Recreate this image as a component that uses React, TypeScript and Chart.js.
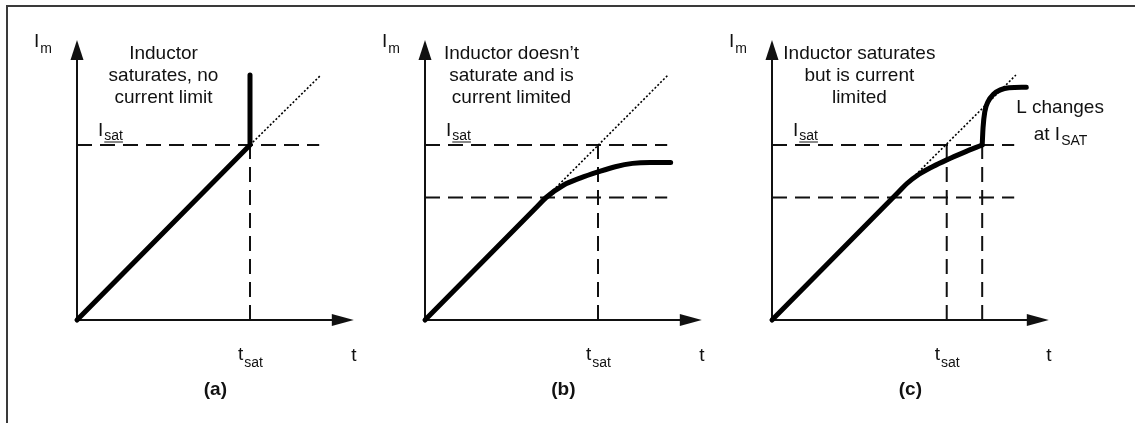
import React, { useEffect, useRef } from "react";
import { Chart, registerables } from "chart.js";

Chart.register(...registerables);

const W = 1135;
const H = 423;

// ---- data (t in units where t_sat = 10, I in units where I_sat = 10) ----
const T_MAX = 16;
const I_MAX = 16;
const I_SAT = 10;
const I_LIMIT = 7;
const REF_END_T = 14;

// Panel (a)
const aCurveT = [0, 10, 10];
const aCurveI = [0, 10, 14];
const aTangentT = [10, 14.1];
const aTangentI = [10, 14];
const aTSat = 10;

// Panel (b)
const bCurveT = [0, 6.5, 7, 8, 9, 10, 11, 12, 13, 14.2];
const bCurveI = [0, 6.5, 7, 7.7, 8.12, 8.46, 8.76, 8.95, 9.0, 9.0];
const bTangentT = [7.4, 14.05];
const bTangentI = [7.4, 14];
const bTSat = 10;

// Panel (c): current-limited bend, then the rise after L changes
const cCurveT = [0, 7.3, 7.8, 8.5, 9.3, 10.1, 11.1, 12.15];
const cCurveI = [0, 7.3, 7.8, 8.33, 8.77, 9.15, 9.58, 10.0];
const cRiseT = [12.15, 12.2, 12.3, 12.5, 12.8, 13.2, 13.7, 14.7];
const cRiseI = [10.0, 11.0, 11.9, 12.5, 12.9, 13.15, 13.27, 13.3];
const cTangentT = [7.8, 14.1];
const cTangentI = [7.8, 14.0];
const cTSat = 10.1;
const cTChange = 12.15;

// Text
const captionA = ["Inductor", "saturates, no", "current limit"];
const captionB = ["Inductor doesn\u2019t", "saturate and is", "current limited"];
const captionC = ["Inductor saturates", "but is current", "limited"];
const panelTags = ["(a)", "(b)", "(c)"];
const noteC = ["L changes", "at I", "SAT"];

const PX_T = 17.3;
const FONT = '"Liberation Sans", Arial, Helvetica, sans-serif';
const INK = "#111";

type Pt = { x: number; y: number };
type Panel = {
  ox: number;
  caption: string[];
  captionT: number;
  tag: string;
  curves: Pt[][];
  tangent: Pt[];
  tSat: number;
  lower: boolean;
  extraV: number[];
  monotone: boolean;
  note?: boolean;
};

const zip = (t: number[], i: number[]) => t.map((v, k) => ({ x: v, y: i[k] }));

const panels: Panel[] = [
  { ox: 77, caption: captionA, captionT: 5, tag: panelTags[0], curves: [zip(aCurveT, aCurveI)], tangent: zip(aTangentT, aTangentI), tSat: aTSat, lower: false, extraV: [], monotone: false },
  { ox: 425, caption: captionB, captionT: 5, tag: panelTags[1], curves: [zip(bCurveT, bCurveI)], tangent: zip(bTangentT, bTangentI), tSat: bTSat, lower: true, extraV: [], monotone: true },
  { ox: 772, caption: captionC, captionT: 5.05, tag: panelTags[2], curves: [zip(cCurveT, cCurveI), zip(cRiseT, cRiseI)], tangent: zip(cTangentT, cTangentI), tSat: cTSat, lower: true, extraV: [cTChange], monotone: true, note: true },
];

function drawSub(ctx: CanvasRenderingContext2D, x: number, y: number, main: string, sub: string, align: "left" | "center", underline = false, subDy = 6) {
  ctx.save();
  ctx.fillStyle = INK;
  ctx.textBaseline = "alphabetic";
  ctx.textAlign = "left";
  ctx.font = `19px ${FONT}`;
  const wm = ctx.measureText(main).width;
  ctx.font = `14px ${FONT}`;
  const ws = ctx.measureText(sub).width;
  const x0 = align === "center" ? x - (wm + ws) / 2 : x;
  ctx.font = `19px ${FONT}`;
  ctx.fillText(main, x0, y);
  ctx.font = `14px ${FONT}`;
  ctx.fillText(sub, x0 + wm + 1, y + subDy);
  if (underline) {
    ctx.strokeStyle = INK;
    ctx.lineWidth = 1;
    ctx.beginPath();
    ctx.moveTo(x0 + wm + 1, y + subDy + 2);
    ctx.lineTo(x0 + wm + 1 + ws, y + subDy + 2);
    ctx.stroke();
  }
  ctx.restore();
}

function diagramPlugin(p: Panel) {
  return {
    id: "diagram",
    beforeDatasetsDraw(chart: any) {
      const { ctx } = chart;
      const xs = chart.scales.x;
      const ys = chart.scales.y;
      const x0 = xs.getPixelForValue(0);
      const y0 = ys.getPixelForValue(0);
      const xt = xs.getPixelForValue(T_MAX);
      const yt = ys.getPixelForValue(I_MAX);
      ctx.save();
      ctx.strokeStyle = INK;
      ctx.fillStyle = INK;
      ctx.lineWidth = 2;
      ctx.beginPath();
      ctx.moveTo(x0, y0);
      ctx.lineTo(x0, yt + 10);
      ctx.moveTo(x0, y0);
      ctx.lineTo(xt - 10, y0);
      ctx.stroke();
      ctx.beginPath();
      ctx.moveTo(x0, yt);
      ctx.lineTo(x0 - 6.5, yt + 20);
      ctx.lineTo(x0 + 6.5, yt + 20);
      ctx.closePath();
      ctx.fill();
      ctx.beginPath();
      ctx.moveTo(xt, y0);
      ctx.lineTo(xt - 22, y0 - 6);
      ctx.lineTo(xt - 22, y0 + 6);
      ctx.closePath();
      ctx.fill();
      ctx.restore();
    },
    afterDraw(chart: any) {
      const { ctx } = chart;
      const xs = chart.scales.x;
      const ys = chart.scales.y;
      const x0 = xs.getPixelForValue(0);
      const ySat = ys.getPixelForValue(I_SAT);
      drawSub(ctx, x0 - 43, 47, "I", "m", "left", false, 6);
      ctx.save();
      ctx.fillStyle = INK;
      ctx.font = `19px ${FONT}`;
      ctx.textAlign = "center";
      ctx.textBaseline = "alphabetic";
      const cx = xs.getPixelForValue(p.captionT);
      p.caption.forEach((line, k) => ctx.fillText(line, cx, 59 + k * 22));
      ctx.fillText("t", xs.getPixelForValue(T_MAX), 361);
      ctx.font = `bold 19px ${FONT}`;
      ctx.fillText(p.tag, xs.getPixelForValue(T_MAX / 2), 395);
      ctx.restore();
      drawSub(ctx, x0 + 21, ySat - 9, "I", "sat", "left", true, 4);
      drawSub(ctx, xs.getPixelForValue(p.tSat), 360, "t", "sat", "center", false, 7);
      if (p.note) {
        const nx = xs.getPixelForValue(16.65);
        ctx.save();
        ctx.fillStyle = INK;
        ctx.textBaseline = "alphabetic";
        ctx.font = `19px ${FONT}`;
        ctx.textAlign = "center";
        ctx.fillText(noteC[0], nx, 113);
        ctx.restore();
        drawSub(ctx, nx, 140, noteC[1], noteC[2], "center", false, 5);
      }
    },
  };
}

function buildDatasets(p: Panel) {
  const dash = { borderColor: INK, borderWidth: 2, borderDash: [15, 8], pointRadius: 0, showLine: true, clip: false as any, tension: 0 };
  const ds: any[] = p.curves.map((c) => ({
    data: c,
    borderColor: "#000",
    borderWidth: 5,
    borderCapStyle: "round",
    borderJoinStyle: "round",
    pointRadius: 0,
    showLine: true,
    clip: false,
    tension: p.monotone ? 0.4 : 0,
    cubicInterpolationMode: p.monotone ? "monotone" : "default",
  }));
  ds.push(
    {
      data: p.tangent,
      borderColor: "#000",
      borderWidth: 1.6,
      borderDash: [2, 2],
      pointRadius: 0,
      showLine: true,
      clip: false,
      tension: 0,
    },
    { ...dash, data: [{ x: 0, y: I_SAT }, { x: REF_END_T, y: I_SAT }] },
    { ...dash, data: [{ x: p.tSat, y: 0 }, { x: p.tSat, y: I_SAT }] }
  );
  if (p.lower) ds.push({ ...dash, data: [{ x: 0, y: I_LIMIT }, { x: REF_END_T, y: I_LIMIT }] });
  p.extraV.forEach((t) => ds.push({ ...dash, data: [{ x: t, y: 0 }, { x: t, y: I_SAT }] }));
  return ds;
}

function PanelChart({ p }: { p: Panel }) {
  const ref = useRef<HTMLCanvasElement | null>(null);
  useEffect(() => {
    if (!ref.current) return;
    const right = W - (p.ox + T_MAX * PX_T);
    const chart = new Chart(ref.current, {
      type: "scatter",
      data: { datasets: buildDatasets(p) },
      options: {
        responsive: false,
        animation: false,
        events: [],
        layout: { padding: { left: p.ox, right, top: 40, bottom: 103 } },
        scales: {
          x: { type: "linear", min: 0, max: T_MAX, display: false },
          y: { type: "linear", min: 0, max: I_MAX, display: false },
        },
        plugins: { legend: { display: false }, tooltip: { enabled: false } },
      } as any,
      plugins: [diagramPlugin(p)],
    });
    return () => chart.destroy();
  }, [p]);
  return (
    <canvas
      ref={ref}
      width={W}
      height={H}
      style={{ position: "absolute", left: 0, top: 0, width: W, height: H }}
    />
  );
}

export default function App() {
  return (
    <div style={{ position: "fixed", left: 0, top: 0, width: W, height: H, background: "#fff", overflow: "hidden" }}>
      <div
        style={{
          position: "absolute",
          left: 6,
          top: 5,
          right: 0,
          bottom: -4,
          borderTop: "2px solid #3a3a3a",
          borderLeft: "2px solid #3a3a3a",
        }}
      />
      {panels.map((p, k) => (
        <PanelChart key={k} p={p} />
      ))}
    </div>
  );
}
